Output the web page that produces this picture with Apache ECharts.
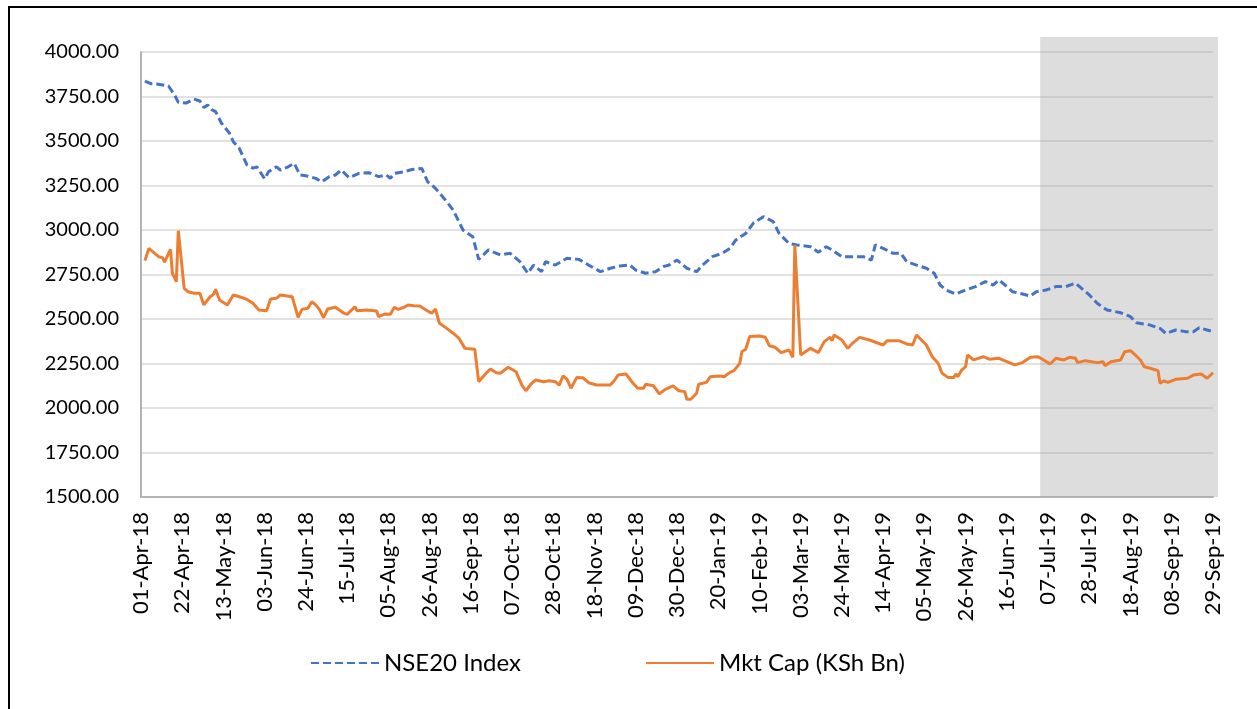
<!DOCTYPE html>
<html>
<head>
<meta charset="utf-8">
<title>NSE20 Index vs Mkt Cap</title>
<script src="https://cdn.jsdelivr.net/npm/echarts@6.0.0/dist/echarts.min.js"></script>
<style>
	html, body {margin: 0; padding: 0; background: #fff;}
	#chart {width: 1257px; height: 709px;}
</style>
</head>
<body>
<div id="chart"></div>
<script>
// x values are days counted from 01-Apr-18
const START = Date.UTC(2018, 3, 1);
const END_DAY = 546; // 29-Sep-19
const SHADE_FROM = '2019-07-03';

const seriesNames = ['NSE20 Index', 'Mkt Cap (KSh Bn)'];
const yTicks = [1500, 1750, 2000, 2250, 2500, 2750, 3000, 3250, 3500, 3750, 4000];

const nseDays = [2, 5, 8, 11, 14, 17, 19, 23, 27, 30, 32, 34, 36, 38, 41, 45, 47, 50, 54, 57,
	59, 63, 65, 69, 71, 75, 78, 81, 84, 89, 92, 96, 99, 102, 106, 111, 116, 121, 125, 127,
	129, 134, 138, 143, 146, 150, 155, 159, 164, 169, 172, 177, 183, 188, 193, 197, 200, 204, 206, 211,
	217, 223, 228, 234, 239, 244, 249, 252, 257, 262, 266, 269, 273, 278, 283, 286, 291, 296, 300, 303,
	308, 312, 317, 322, 325, 330, 334, 341, 345, 349, 352, 357, 363, 368, 372, 374, 378, 383, 387, 390,
	395, 400, 404, 407, 410, 415, 420, 425, 430, 434, 437, 441, 444, 449, 453, 456, 461, 466, 471, 476,
	480, 483, 487, 492, 499, 504, 507, 514, 519, 522, 527, 532, 536, 539, 543, 546];
const nseValues = [3837, 3822, 3820, 3815, 3809, 3760, 3718, 3713, 3735, 3725, 3688, 3702, 3676, 3665, 3600, 3545, 3496, 3460, 3365, 3348,
	3355, 3287, 3328, 3355, 3337, 3355, 3375, 3309, 3305, 3290, 3271, 3300, 3309, 3337, 3294, 3318, 3322, 3300, 3309, 3290,
	3318, 3327, 3340, 3346, 3271, 3234, 3169, 3112, 3000, 2962, 2835, 2888, 2860, 2869, 2822, 2757, 2803, 2766, 2822, 2803,
	2841, 2835, 2803, 2766, 2785, 2798, 2803, 2775, 2757, 2766, 2794, 2803, 2831, 2785, 2766, 2803, 2850, 2869, 2897, 2944,
	2981, 3040, 3075, 3047, 2981, 2925, 2916, 2906, 2875, 2906, 2888, 2850, 2850, 2850, 2831, 2916, 2897, 2869, 2869, 2822,
	2803, 2785, 2757, 2691, 2663, 2640, 2663, 2682, 2710, 2691, 2719, 2682, 2653, 2640, 2629, 2653, 2663, 2682, 2682, 2701,
	2663, 2635, 2588, 2551, 2535, 2513, 2479, 2466, 2447, 2419, 2438, 2429, 2429, 2451, 2438, 2429];

const capDays = [2, 4, 7, 9, 11, 12, 15, 16, 18, 19, 22, 24, 27, 30, 32, 35, 37, 38, 40, 44,
	47, 51, 54, 57, 60, 64, 66, 69, 71, 77, 80, 82, 85, 87, 89, 91, 93, 95, 99, 103,
	105, 109, 110, 115, 116, 120, 121, 124, 127, 129, 131, 134, 136, 139, 142, 146, 148, 150, 152, 155,
	159, 162, 165, 170, 172, 176, 178, 181, 183, 187, 191, 194, 196, 199, 201, 205, 208, 211, 213, 215,
	217, 219, 222, 225, 228, 232, 239, 241, 243, 247, 250, 253, 256, 257, 261, 264, 267, 271, 274, 277,
	278, 280, 283, 284, 288, 290, 295, 297, 300, 302, 305, 306, 308, 310, 315, 318, 320, 323, 326, 330,
	332, 333, 336, 341, 345, 348, 351, 352, 353, 357, 360, 362, 366, 371, 378, 380, 386, 390, 393, 395,
	400, 403, 406, 408, 411, 414, 415, 416, 418, 420, 421, 424, 429, 432, 437, 445, 449, 453, 457, 463,
	466, 470, 473, 476, 477, 481, 487, 490, 491, 494, 499, 501, 504, 507, 509, 511, 514, 518, 519, 521,
	523, 527, 533, 536, 540, 543, 546];
const capValues = [2828, 2897, 2869, 2850, 2845, 2820, 2891, 2757, 2710, 2996, 2672, 2653, 2645, 2644, 2579, 2622, 2640, 2667, 2607, 2579,
	2635, 2622, 2610, 2588, 2551, 2547, 2612, 2616, 2635, 2625, 2510, 2554, 2560, 2597, 2579, 2551, 2507, 2556, 2566, 2535,
	2526, 2569, 2547, 2551, 2560, 2545, 2513, 2528, 2526, 2566, 2554, 2566, 2579, 2575, 2573, 2545, 2532, 2556, 2476, 2453,
	2420, 2391, 2335, 2330, 2148, 2198, 2219, 2198, 2195, 2229, 2204, 2129, 2097, 2139, 2157, 2148, 2153, 2148, 2129, 2180,
	2161, 2111, 2172, 2170, 2142, 2129, 2129, 2153, 2185, 2191, 2148, 2111, 2111, 2133, 2125, 2079, 2105, 2124, 2097, 2092,
	2049, 2049, 2083, 2133, 2144, 2176, 2180, 2176, 2200, 2210, 2251, 2316, 2330, 2401, 2404, 2397, 2350, 2341, 2311, 2326,
	2285, 2916, 2298, 2335, 2311, 2373, 2397, 2378, 2410, 2382, 2335, 2360, 2397, 2382, 2354, 2378, 2378, 2360, 2354, 2410,
	2354, 2288, 2251, 2195, 2172, 2172, 2191, 2176, 2213, 2232, 2298, 2270, 2288, 2274, 2279, 2242, 2255, 2285, 2288, 2247,
	2279, 2270, 2285, 2279, 2255, 2266, 2255, 2260, 2238, 2260, 2270, 2316, 2322, 2292, 2270, 2232, 2223, 2210, 2139, 2153,
	2144, 2161, 2167, 2185, 2191, 2167, 2198];

const MONTHS = ['Jan', 'Feb', 'Mar', 'Apr', 'May', 'Jun', 'Jul', 'Aug', 'Sep', 'Oct', 'Nov', 'Dec'];

function dayOf(str) {
	return Math.round((Date.parse(str + 'T00:00:00Z') - START) / 86400000);
}

function dayLabel(v) {
	const d = new Date(START + v * 86400000);
	const dd = String(d.getUTCDate()).padStart(2, '0');
	const yy = String(d.getUTCFullYear()).slice(2);
	return dd + '-' + MONTHS[d.getUTCMonth()] + '-' + yy;
}

function zip(xs, ys) {
	return xs.map((x, i) => [x, ys[i]]);
}

const FONT = 'Lato';

// the grey box sticks out a little past the plot (top and right), so it
// gets its own hidden grid that is slightly bigger but on the same scale
const PX_PER_DAY = (1213 - 141) / END_DAY;
const PX_PER_UNIT = (497 - 52) / 2500;
const shadeMaxDay = END_DAY + 5 / PX_PER_DAY;
const shadeMaxY = yTicks[yTicks.length - 1] + 15 / PX_PER_UNIT;

let myChart = echarts.init(document.getElementById('chart'), null, {renderer: 'canvas'});

let option = {
	animation: false,
	backgroundColor: '#fff',
	// outer frame of the chart
	graphic: [{
		type: 'rect',
		silent: true,
		shape: {x: 9, y: 7, width: 1300, height: 760},
		style: {fill: 'none', stroke: '#000', lineWidth: 2}
	}],
	grid: [
		{left: 141, right: 44, top: 52, bottom: 212},
		{left: 141, right: 39, top: 37, bottom: 212}
	],
	legend: {
		data: seriesNames,
		left: 305,
		top: 646,
		itemWidth: 68,
		itemHeight: 14,
		itemGap: 124,
		itemStyle: {opacity: 0},
		textStyle: {fontFamily: FONT, fontSize: 24, color: '#000'}
	},
	xAxis: [{
		type: 'value',
		min: 0,
		max: END_DAY,
		interval: 21,
		axisLine: {show: true, lineStyle: {color: '#b4b4b4', width: 2}},
		axisTick: {show: false},
		splitLine: {show: false},
		axisLabel: {
			rotate: 90,
			margin: 15,
			fontFamily: FONT,
			fontSize: 22,
			color: '#000',
			formatter: dayLabel
		}
	}, {
		type: 'value',
		gridIndex: 1,
		min: 0,
		max: shadeMaxDay,
		show: false
	}],
	yAxis: [{
		type: 'value',
		min: yTicks[0],
		max: yTicks[yTicks.length - 1],
		interval: 250,
		axisLine: {show: true, lineStyle: {color: '#b4b4b4', width: 2}},
		axisTick: {show: false},
		splitLine: {lineStyle: {color: '#d9d9d9', width: 1.5}},
		axisLabel: {
			margin: 22,
			fontFamily: FONT,
			fontSize: 20,
			color: '#000',
			formatter: v => v.toFixed(2)
		}
	}, {
		type: 'value',
		gridIndex: 1,
		min: yTicks[0],
		max: shadeMaxY,
		show: false,
		splitLine: {show: false}
	}],
	series: [
		{
			name: seriesNames[0],
			type: 'line',
			showSymbol: false,
			symbol: 'none',
			data: zip(nseDays, nseValues),
			itemStyle: {color: '#4472c4'},
			lineStyle: {color: '#4472c4', width: 3, type: [8, 4]}
		},
		{
			name: seriesNames[1],
			type: 'line',
			showSymbol: false,
			symbol: 'none',
			data: zip(capDays, capValues),
			itemStyle: {color: '#ed7d31'},
			lineStyle: {color: '#ed7d31', width: 3}
		},
		{
			// grey shading drawn over the last quarter
			name: 'shade',
			type: 'line',
			xAxisIndex: 1,
			yAxisIndex: 1,
			z: 10,
			data: [],
			markArea: {
				silent: true,
				itemStyle: {color: 'rgba(165,165,165,0.38)'},
				data: [[
					{coord: [dayOf(SHADE_FROM), shadeMaxY]},
					{coord: [shadeMaxDay, yTicks[0]]}
				]]
			}
		}
	]
};

myChart.setOption(option, true);
</script>
</body>
</html>
